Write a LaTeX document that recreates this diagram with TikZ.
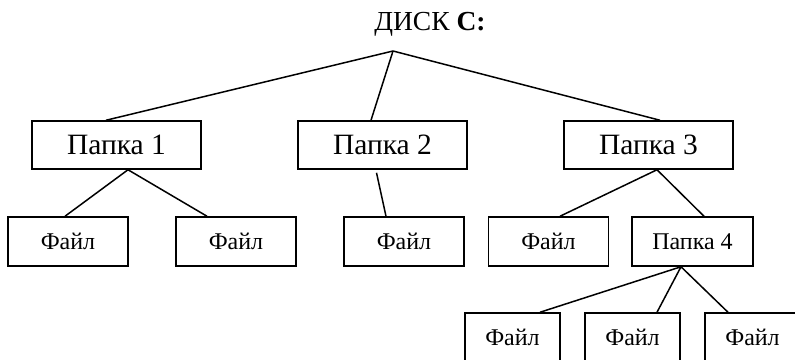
\documentclass[tikz,border=0pt]{standalone}
\usepackage{fontspec}
\setmainfont{Liberation Serif}
\begin{document}
\begin{tikzpicture}[x=1pt, y=-1pt, line width=1.5pt,
  folder/.style={draw, minimum width=169pt, minimum height=48pt, inner sep=0pt, font=\fontsize{29.5}{31}\selectfont},
  smallfolder/.style={draw, minimum width=121pt, minimum height=49pt, inner sep=0pt, font=\fontsize{24}{26}\selectfont},
  file/.style={draw, minimum width=120pt, minimum height=49pt, inner sep=0pt, font=\fontsize{24}{26}\selectfont},
  lowfile/.style={file, minimum width=95pt}]
\useasboundingbox (0,0) rectangle (795,359);
\clip (0,0) rectangle (795,359);
% root
\node[font=\fontsize{27.5}{29}\selectfont] (disk) at (430,24) {ДИСК \textbf{C:}};
\coordinate (root) at (393,51);
% first level
\node[folder] (papka1) at (116.5,145) {Папка 1};
\node[folder] (papka2) at (382.5,145) {Папка 2};
\node[folder] (papka3) at (648.5,145) {Папка 3};
% second level
\node[file] (fajl1) at (68,241.5) {Файл};
\node[file] (fajl2) at (236,241.5) {Файл};
\node[file] (fajl3) at (404,241.5) {Файл};
\node[file] (fajl4) at (548.5,241.5) {Файл};
\node[smallfolder] (papka4) at (692.5,241.5) {Папка 4};
% third level
\node[lowfile] (fajl5) at (512.5,337.5) {Файл};
\node[lowfile] (fajl6) at (632.5,337.5) {Файл};
\node[lowfile, minimum width=110pt, text width=95pt, align=center] (fajl7) at (760,337.5) {\hspace*{-15pt}Файл};
% lines
\draw (root) -- ([xshift=-10.5pt]papka1.north);
\draw (root) -- ([xshift=-11.5pt]papka2.north);
\draw (root) -- ([xshift=11.5pt]papka3.north);
\draw ([xshift=11.5pt]papka1.south) -- ([xshift=-3pt]fajl1.north);
\draw ([xshift=11.5pt]papka1.south) -- ([xshift=-29pt]fajl2.north);
\draw ([xshift=-6pt,yshift=-3pt]papka2.south) -- ([xshift=-18pt]fajl3.north);
\draw ([xshift=8.5pt]papka3.south) -- ([xshift=11.5pt]fajl4.north);
\draw ([xshift=8.5pt]papka3.south) -- ([xshift=11.5pt]papka4.north);
\draw ([xshift=-11.5pt]papka4.south) -- ([xshift=27.5pt]fajl5.north);
\draw ([xshift=-11.5pt]papka4.south) -- ([xshift=24.5pt]fajl6.north);
\draw ([xshift=-11.5pt]papka4.south) -- ([xshift=-32pt]fajl7.north);
\end{tikzpicture}
\end{document}
